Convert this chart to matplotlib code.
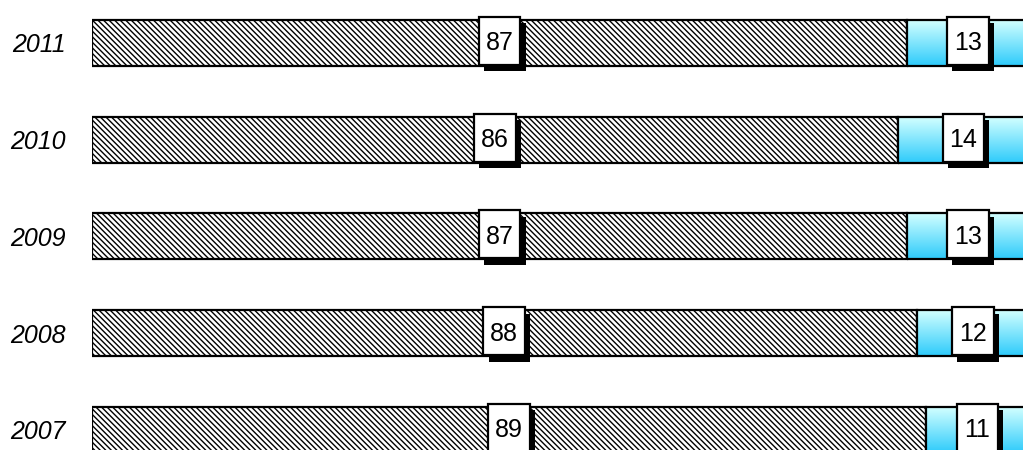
import numpy as np
import matplotlib.pyplot as plt
from matplotlib.patches import Rectangle

plt.rcParams['font.family'] = ['Liberation Sans', 'DejaVu Sans']
plt.rcParams['hatch.linewidth'] = 1.0
plt.rcParams['hatch.color'] = '#8c8c8c'

anos = ['2007', '2008', '2009', '2010', '2011']
parte_a = [89, 88, 87, 86, 87]
parte_b = [11, 12, 13, 14, 13]

fig = plt.figure(figsize=(10.23, 4.5), dpi=100)
ax = fig.add_axes([92 / 1023, 0, 937 / 1023, 1])

y = np.arange(len(anos))
altura = 0.475

ax.barh(y, parte_a, height=altura, color='white', edgecolor='black',
        linewidth=1.6, hatch='\\' * 6, zorder=2)
barras_b = ax.barh(y, parte_b, left=parte_a, height=altura, color='none',
                   edgecolor='black', linewidth=1.6, zorder=3)

# degradê azul nas barras da direita
grad = np.linspace(0, 1, 100).reshape(-1, 1)
cmap = plt.matplotlib.colors.LinearSegmentedColormap.from_list(
    'azul', ['#d2ffff', '#2ecbfb'])
for i, b in enumerate(barras_b):
    im = ax.imshow(grad, cmap=cmap, aspect='auto', zorder=2.5,
                   extent=[parte_a[i], parte_a[i] + parte_b[i],
                           y[i] - altura / 2, y[i] + altura / 2],
                   origin='upper')
    im.set_clip_path(b)
ax.set_xlim(0, 100)
ax.set_ylim(-0.207, 4.444)


def caixa(cx, cy, texto):
    w = 4.45
    topo = cy + altura / 2 + 0.031
    base = cy - altura / 2 + 0.01
    ax.add_patch(Rectangle((cx - w / 2 + 0.55, base - 0.065), w, topo - base,
                           facecolor='black', edgecolor='none', zorder=4))
    ax.add_patch(Rectangle((cx - w / 2, base), w, topo - base,
                           facecolor='white', edgecolor='black',
                           linewidth=1.6, zorder=5))
    ax.text(cx, (topo + base) / 2, texto, ha='center', va='center_baseline',
            fontsize=18, zorder=6)


for i in range(len(anos)):
    caixa(parte_a[i] / 2, y[i], str(parte_a[i]))
    caixa(parte_a[i] + parte_b[i] / 2, y[i], str(parte_b[i]))

ax.set_yticks(y)
ax.set_yticklabels(anos, fontstyle='italic', fontsize=18)
ax.tick_params(axis='y', length=0, pad=19)
ax.set_xticks([])
for s in ax.spines.values():
    s.set_visible(False)

fig.savefig('out.png', dpi=100)
